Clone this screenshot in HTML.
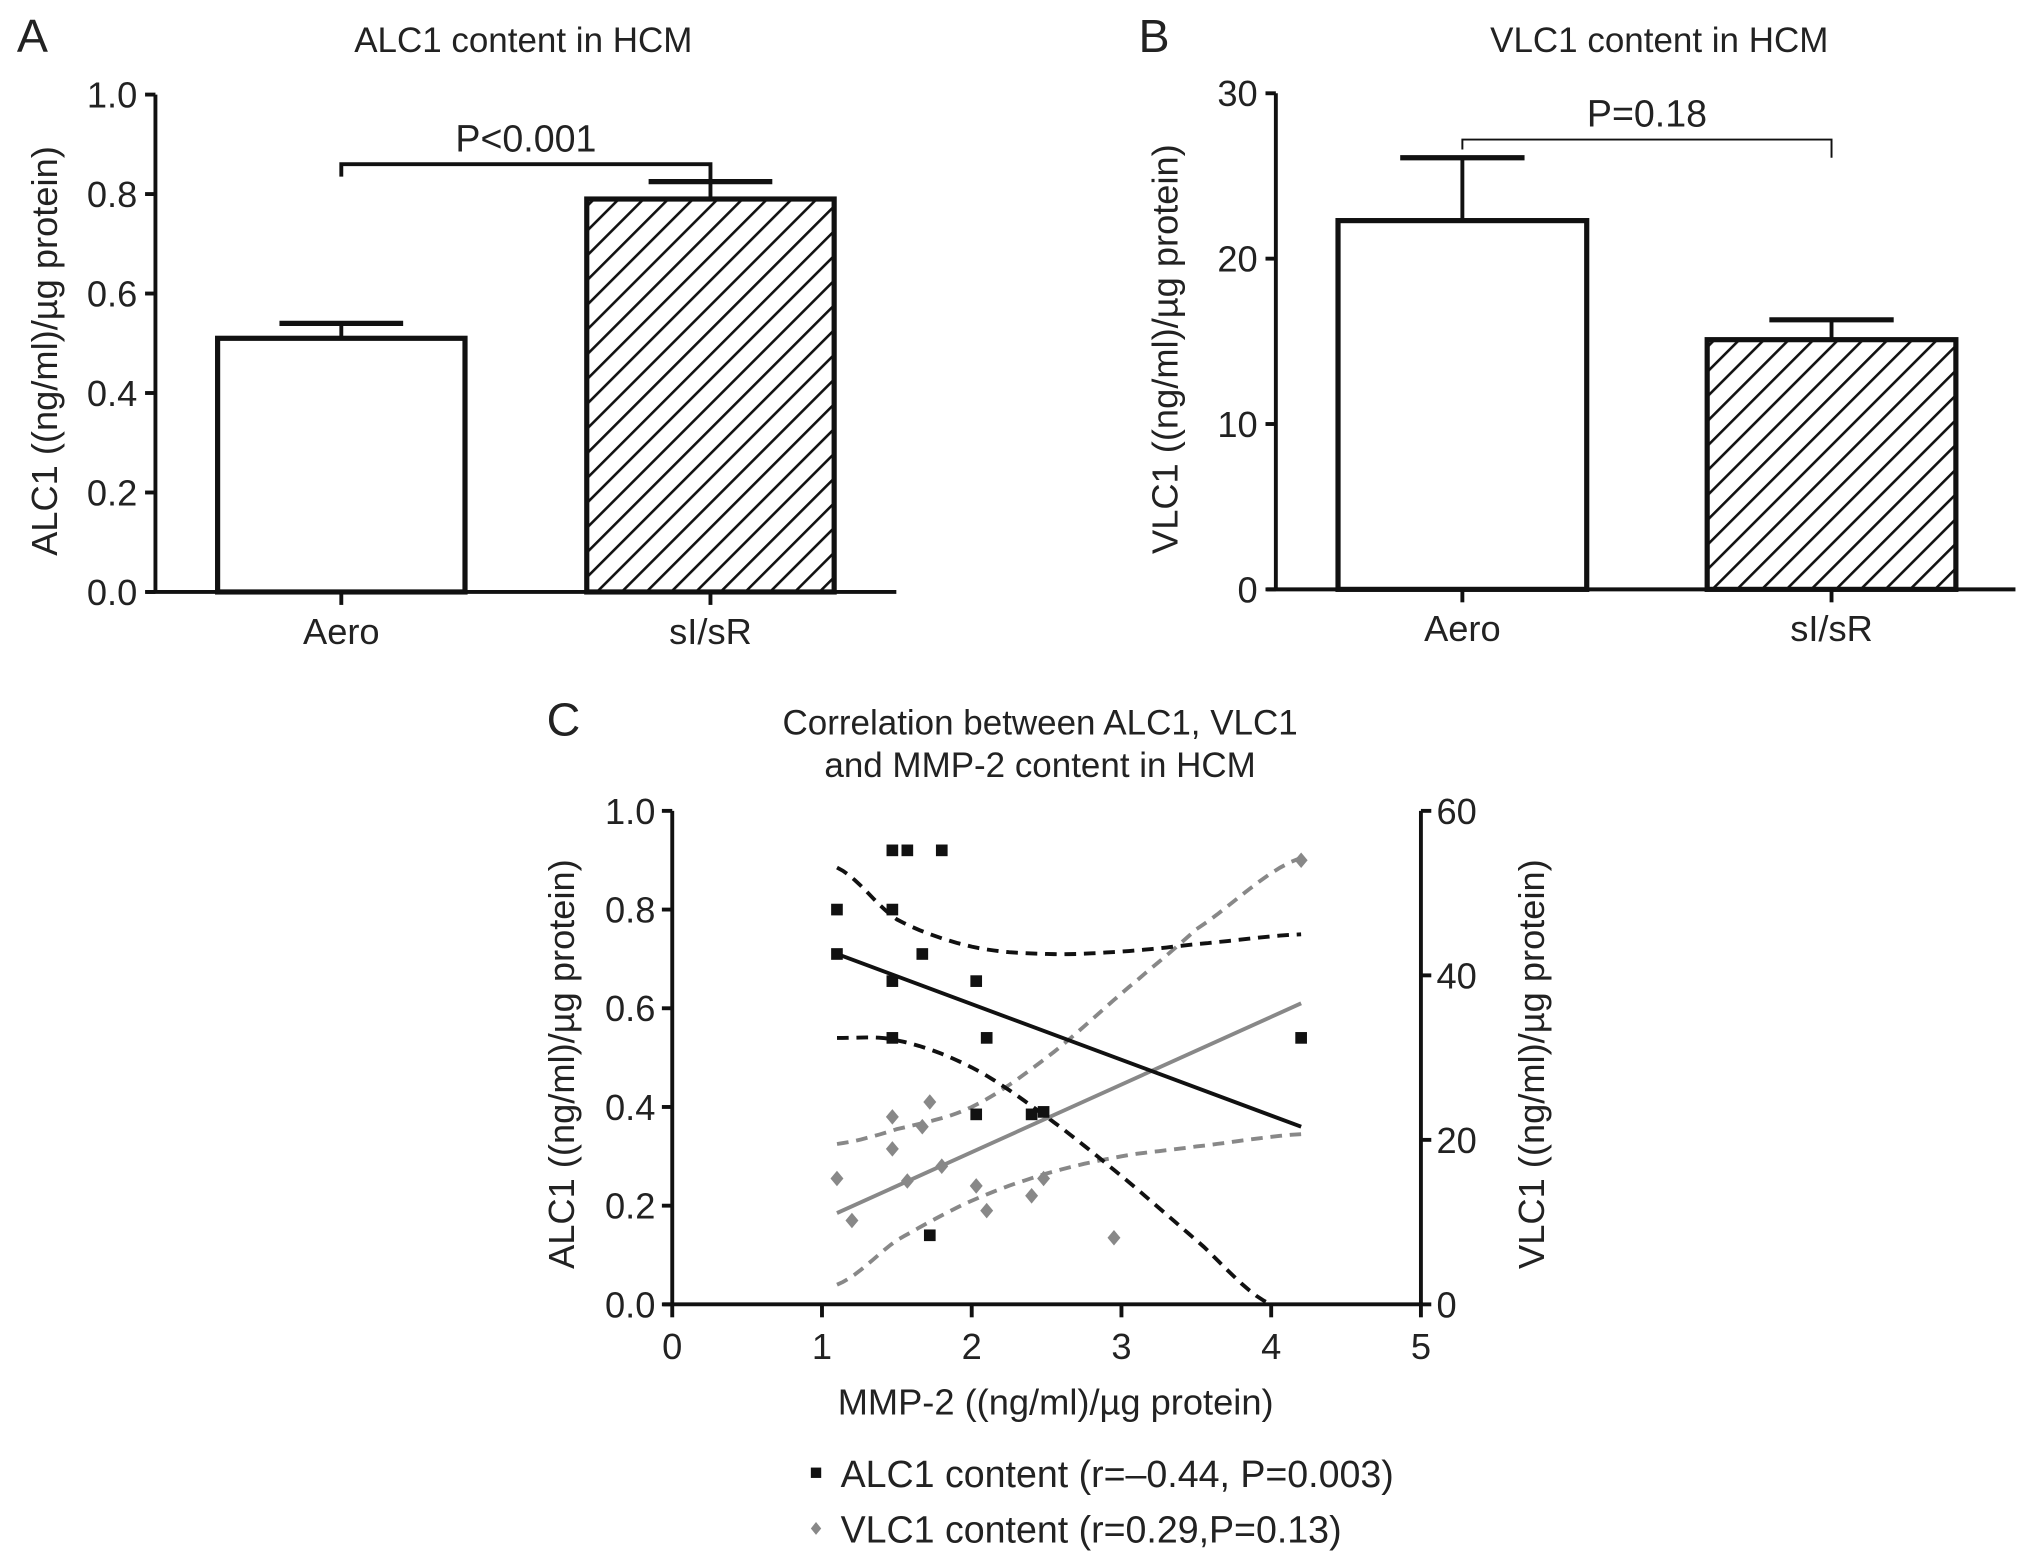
<!DOCTYPE html>
<html><head><meta charset="utf-8"><style>
html,body{margin:0;padding:0;background:#fff;}
svg{display:block;font-family:"Liberation Sans",Arial,sans-serif;}
</style></head><body>
<svg id="fig" width="2031" height="1565" viewBox="0 0 1568 1208.2" xmlns="http://www.w3.org/2000/svg">
<defs>
<pattern id="hatch" patternUnits="userSpaceOnUse" width="13.5" height="13.5" patternTransform="rotate(45)">
<line x1="0" y1="0" x2="0" y2="13.5" stroke="#111" stroke-width="4"/>
</pattern>
</defs>
<g id="root"></g>
</svg>
<script>
// Panel A data
const catsA = ["Aero","sI/sR"];
const meansA = [0.51, 0.79];
const errA = [0.03, 0.035];
const ticksA = [0.0,0.2,0.4,0.6,0.8,1.0];
// Panel B data
const catsB = ["Aero","sI/sR"];
const meansB = [22.3, 15.1];
const errB = [3.8, 1.2];
const ticksB = [0,10,20,30];
// Panel C data
const alcX = [1.1,1.1,1.47,1.57,1.8,1.47,1.47,1.67,2.03,1.47,2.1,2.03,2.4,2.48,1.72,4.2];
const alcY = [0.8,0.71,0.92,0.92,0.92,0.8,0.655,0.71,0.655,0.54,0.54,0.385,0.385,0.39,0.14,0.54];
const vlcX = [1.1,1.2,1.47,1.47,1.67,1.72,1.57,1.8,2.03,2.1,2.4,2.48,2.95,4.2];
const vlcY = [15.3,10.2,22.8,18.9,21.6,24.6,15,16.8,14.4,11.4,13.2,15.3,8.1,54];
const alcFitX = [1.1,4.2];
const alcFitY = [0.71,0.36];
const vlcFitX = [1.1,4.2];
const vlcFitY = [11.1,36.6];
const ciX = [1.1,1.5,2,2.5,3,3.5,4.2];
const alcUpper = [0.885,0.78,0.725,0.71,0.715,0.73,0.75];
const alcLowerX = [1.1,1.5,2,2.5,3,3.5,4.0];
const alcLower = [0.54,0.535,0.48,0.38,0.26,0.13,0.0];
const vlcUpper = [19.5,21.3,24,30,37.8,45.6,54.3];
const vlcLower = [2.4,7.8,12.6,15.9,18,19.2,20.7];
const ticksCX = [0,1,2,3,4,5];
const ticksCL = [0.0,0.2,0.4,0.6,0.8,1.0];
const ticksCR = [0,20,40,60];

const NS="http://www.w3.org/2000/svg";
const root=document.getElementById('root');
const FS=28;
function mk(tag,attrs,parent,text){const e=document.createElementNS(NS,tag);for(const k in attrs)e.setAttribute(k,attrs[k]);if(text!==undefined)e.textContent=text;(parent||root).appendChild(e);return e;}
function txt(x,y,s,size,anchor,parent,extra){const t=mk('text',Object.assign({x:x,y:y,'font-size':size,'text-anchor':anchor||'middle',fill:'#222'},extra||{}),parent,s);return t;}

function barPanel(opt){
  const g=mk('g',{});
  
  
  const ys=v=>opt.y0-(v-opt.ymin)/(opt.ymax-opt.ymin)*(opt.y0-opt.y1);
  const L=txt(opt.letterX,40,opt.letter,36,'middle',g);
  
  const T=txt(opt.titleX,40,opt.title,27,'middle',g);
  
  const ya=mk('line',{x1:opt.ax,y1:opt.y1,x2:opt.ax,y2:opt.y0,stroke:'#111','stroke-width':3},g);
  
  opt.ticks.forEach(t=>{
    const y=ys(t);
    mk('line',{x1:opt.ax-8,y1:y,x2:opt.ax,y2:y,stroke:'#111','stroke-width':3},g);
    const tl=txt(opt.ax-14,y+10,opt.fmt(t),FS,'end',g);
    
  });
  const yl=txt(0,0,opt.ylabel,FS,'middle',g,{transform:`translate(${opt.ax-76},${(opt.y0+opt.y1)/2+6}) rotate(-90)`});
  
  const xa=mk('line',{x1:opt.ax-7,y1:opt.y0,x2:opt.xend,y2:opt.y0,stroke:'#111','stroke-width':3},g);
  
  const centers=[];
  opt.cats.forEach((c,i)=>{
    const cx=opt.bx[i]+opt.bw/2;centers.push(cx);
    const top=ys(opt.means[i]);
    const etop=ys(opt.means[i]+opt.errs[i]);
    const el=mk('line',{x1:cx,y1:top,x2:cx,y2:etop,stroke:'#111','stroke-width':3},g);
    
    mk('line',{x1:cx-opt.bw/4,y1:etop,x2:cx+opt.bw/4,y2:etop,stroke:'#111','stroke-width':4},g);
    const r=mk('rect',{x:opt.bx[i],y:top,width:opt.bw,height:opt.y0-top,fill:i?'url(#hatch)':'#fff',stroke:'#111','stroke-width':4},g);
    
    mk('line',{x1:cx,y1:opt.y0,x2:cx,y2:opt.y0+10,stroke:'#111','stroke-width':3},g);
    const xl=txt(cx,opt.y0+40,c,FS,'middle',g);
    
  });
  const by=ys(opt.br.y);
  const b=mk('path',{d:`M${centers[0]},${ys(opt.br.l)} V${by} H${centers[1]} V${ys(opt.br.r)}`,fill:'none',stroke:'#111','stroke-width':opt.br.w},g);
  
  const pt=txt((centers[0]+centers[1])/2,by-10,opt.br.text,29,'middle',g);
  
}
barPanel({name:'panel-a',letter:'A',letterX:25,title:'ALC1 content in HCM',titleX:404,ax:120,y0:457,y1:73,ymin:0,ymax:1,
  ticks:ticksA,fmt:t=>t.toFixed(1),ylabel:'ALC1 ((ng/ml)/µg protein)',xend:692,cats:catsA,means:meansA,errs:errA,
  bx:[168,453],bw:191,br:{y:0.86,l:0.835,r:0.83,text:'P<0.001',w:3}});
barPanel({name:'panel-b',letter:'B',letterX:891,title:'VLC1 content in HCM',titleX:1281,ax:985,y0:455,y1:72,ymin:0,ymax:30,
  ticks:ticksB,fmt:t=>String(t),ylabel:'VLC1 ((ng/ml)/µg protein)',xend:1556,cats:catsB,means:meansB,errs:errB,
  bx:[1033,1318],bw:192,br:{y:27.2,l:26.6,r:26.1,text:'P=0.18',w:1.5}});

(function(){
  const g=mk('g',{});
  
  
  const X0=519,X1=1097,Y0=1007,Y1=626;
  const xs=v=>X0+v/5*(X1-X0);
  const yl=v=>Y0-v/1*(Y0-Y1);
  const yr=v=>Y0-v/60*(Y0-Y1);
  const L=txt(435,568,'C',36,'middle',g);
  const t1=txt(803,567,'Correlation between ALC1, VLC1',27,'middle',g);
  
  const t2=txt(803,600,'and MMP-2 content in HCM',27,'middle',g);
  
  const la=mk('line',{x1:X0,y1:Y1,x2:X0,y2:Y0,stroke:'#111','stroke-width':3},g);
  
  const ra=mk('line',{x1:X1,y1:Y1,x2:X1,y2:Y0,stroke:'#111','stroke-width':3},g);
  
  const xa=mk('line',{x1:X0-7,y1:Y0,x2:X1,y2:Y0,stroke:'#111','stroke-width':3},g);
  
  ticksCL.forEach(t=>{mk('line',{x1:X0-8,y1:yl(t),x2:X0,y2:yl(t),stroke:'#111','stroke-width':3},g);
    const e=txt(X0-13,yl(t)+10,t.toFixed(1),FS,'end',g);});
  ticksCR.forEach(t=>{mk('line',{x1:X1,y1:yr(t),x2:X1+8,y2:yr(t),stroke:'#111','stroke-width':3},g);
    const e=txt(X1+12,yr(t)+10,String(t),FS,'start',g);});
  ticksCX.forEach(t=>{mk('line',{x1:xs(t),y1:Y0,x2:xs(t),y2:Y0+10,stroke:'#111','stroke-width':3},g);
    const e=txt(xs(t),Y0+42,String(t),FS,'middle',g);});
  const lt=txt(0,0,'ALC1 ((ng/ml)/µg protein)',FS,'middle',g,{transform:`translate(443,${(Y0+Y1)/2+5}) rotate(-90)`});
  
  const rt=txt(0,0,'VLC1 ((ng/ml)/µg protein)',FS,'middle',g,{transform:`translate(1192,${(Y0+Y1)/2+5}) rotate(-90)`});
  
  const xt=txt(815,1092,'MMP-2 ((ng/ml)/µg protein)',FS,'middle',g);
  
  function curve(xarr,yarr,yf){
    let d='';for(let i=0;i<xarr.length-1;i++){
      const n=10;for(let k=0;k<=n;k++){const tt=k/n;const x=xarr[i]+(xarr[i+1]-xarr[i])*tt;
        const p0=yarr[Math.max(0,i-1)],p1=yarr[i],p2=yarr[i+1],p3=yarr[Math.min(yarr.length-1,i+2)];
        const y=0.5*((2*p1)+(-p0+p2)*tt+(2*p0-5*p1+4*p2-p3)*tt*tt+(-p0+3*p1-3*p2+p3)*tt*tt*tt);
        d+=(d?'L':'M')+xs(x).toFixed(1)+','+yf(y).toFixed(1)+' ';}
    }return d;}
  let e;
  e=mk('path',{d:curve(ciX,vlcUpper,yr),fill:'none',stroke:'#888','stroke-width':3,'stroke-dasharray':'9,6'},g);
  
  e=mk('path',{d:curve(ciX,vlcLower,yr),fill:'none',stroke:'#888','stroke-width':3,'stroke-dasharray':'9,6'},g);
  
  e=mk('path',{d:curve(ciX,alcUpper,yl),fill:'none',stroke:'#111','stroke-width':3,'stroke-dasharray':'9,6'},g);
  
  e=mk('path',{d:curve(alcLowerX,alcLower,yl),fill:'none',stroke:'#111','stroke-width':3,'stroke-dasharray':'9,6'},g);
  
  e=mk('line',{x1:xs(vlcFitX[0]),y1:yr(vlcFitY[0]),x2:xs(vlcFitX[1]),y2:yr(vlcFitY[1]),stroke:'#888','stroke-width':3},g);
  
  e=mk('line',{x1:xs(alcFitX[0]),y1:yl(alcFitY[0]),x2:xs(alcFitX[1]),y2:yl(alcFitY[1]),stroke:'#111','stroke-width':3},g);
  
  vlcX.forEach((x,i)=>{const cx=xs(x),cy=yr(vlcY[i]);
    const p=mk('path',{d:`M${cx},${cy-6} L${cx+5},${cy} L${cx},${cy+6} L${cx-5},${cy} Z`,fill:'#888'},g);
    });
  alcX.forEach((x,i)=>{const cx=xs(x),cy=yl(alcY[i]);
    const p=mk('rect',{x:cx-4.5,y:cy-4.5,width:9,height:9,fill:'#111'},g);
    });
  const lg=mk('g',{},g);
  const l1=mk('g',{},lg);
  mk('rect',{x:626,y:1133,width:8,height:8,fill:'#111'},l1);
  txt(649,1148,'ALC1 content (r=–0.44, P=0.003)',29,'start',l1);
  const l2=mk('g',{},lg);
  mk('path',{d:'M630,1175 L634,1180 L630,1185 L626,1180 Z',fill:'#888'},l2);
  txt(649,1191,'VLC1 content (r=0.29,P=0.13)',29,'start',l2);
})();
</script>
</body></html>
